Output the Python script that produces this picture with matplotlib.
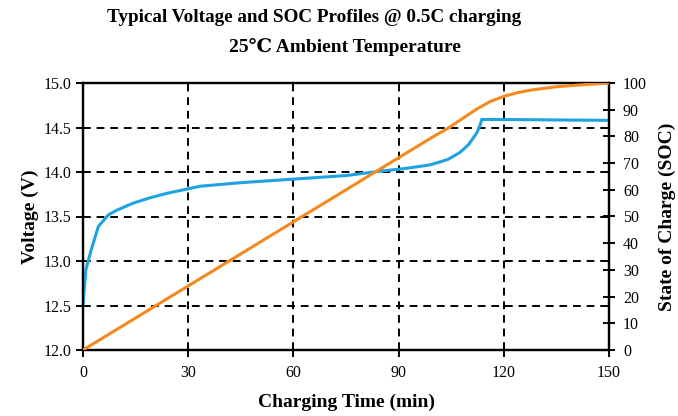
import matplotlib
matplotlib.use("Agg")
import matplotlib.pyplot as plt

plt.rcParams['font.family'] = ['Liberation Serif', 'DejaVu Serif']

# Charging time (min) and pack voltage (V)
time_v = [0, 0.8, 2.3, 4.4, 7.3, 9.6, 14.3, 19.1, 23.9, 33.4, 45, 60, 75, 85,
          92, 99, 104, 107.5, 110, 112.3, 113.2, 113.7, 120, 135, 150]
voltage = [12.5, 12.9, 13.12, 13.39, 13.52, 13.57, 13.65, 13.71, 13.76, 13.84,
           13.88, 13.92, 13.96, 14.01, 14.04, 14.08, 14.14, 14.22, 14.31, 14.44,
           14.52, 14.59, 14.59, 14.585, 14.58]

# Charging time (min) and state of charge (%)
time_soc = [0, 30, 60, 90, 100, 104, 108, 112, 116, 120, 124, 128, 135, 142, 150]
soc = [0, 24, 48, 72, 80, 83, 86.5, 90, 93, 95, 96.4, 97.4, 98.6, 99.3, 100]

x_ticks = [0, 30, 60, 90, 120, 150]
v_ticks = [12.0, 12.5, 13.0, 13.5, 14.0, 14.5, 15.0]
soc_ticks = list(range(0, 101, 10))

fig = plt.figure(figsize=(6.78, 4.16), dpi=100)
ax = fig.add_axes([83 / 678, 1 - 350 / 416, 526 / 678, 267 / 416])
ax2 = ax.twinx()

blue = '#1ea3e0'
orange = '#f5891e'

ax.plot(time_v, voltage, color=blue, lw=2.2, solid_joinstyle='round', zorder=3)
ax2.plot(time_soc, soc, color=orange, lw=2.2, solid_joinstyle='round', zorder=3)

ax.set_xlim(0, 150)
ax.set_ylim(12.0, 15.0)
ax2.set_ylim(0, 100)

ax.set_xticks(x_ticks)
ax.set_yticks(v_ticks)
ax.set_yticklabels([f'{v:.1f}' for v in v_ticks])
ax2.set_yticks(soc_ticks)

for a in (ax, ax2):
    for s in a.spines.values():
        s.set_linewidth(1.6)
        s.set_color('black')

ax.grid(True, color='black', linestyle=(0, (4, 3)), linewidth=1.4)
ax.set_axisbelow(False)

ax.tick_params(axis='both', labelsize=11.5, width=1.4, length=5, direction='out', colors='black')
ax.tick_params(axis='x', pad=6)
ax2.tick_params(axis='y', labelsize=11.5, width=1.4, length=8, direction='inout', colors='black', pad=6)

label_font = dict(fontsize=14, fontweight='bold', ha='center', va='center')
ax.set_xlabel('Charging Time (min)', **label_font)
ax.set_ylabel('Voltage (V)', **label_font)
ax2.set_ylabel('State of Charge (SOC)', rotation=90, **label_font)
ax.xaxis.set_label_coords(0.5, (350 - 402) / 267)
ax.yaxis.set_label_coords((30 - 83) / 526, 0.5)
ax2.yaxis.set_label_coords((667 - 83) / 526, 0.5)

fig.text(314 / 678, 1 - 17 / 416, 'Typical Voltage and SOC Profiles @ 0.5C charging',
         ha='center', va='center', fontsize=13.8, fontweight='bold')
fig.text(345 / 678, 1 - 47 / 416, '25\u2103 Ambient Temperature',
         ha='center', va='center', fontsize=14, fontweight='bold',
         family=['Liberation Serif', 'DejaVu Serif', 'Noto Sans CJK SC'])

fig.savefig('out.png', dpi=100, facecolor='white')
